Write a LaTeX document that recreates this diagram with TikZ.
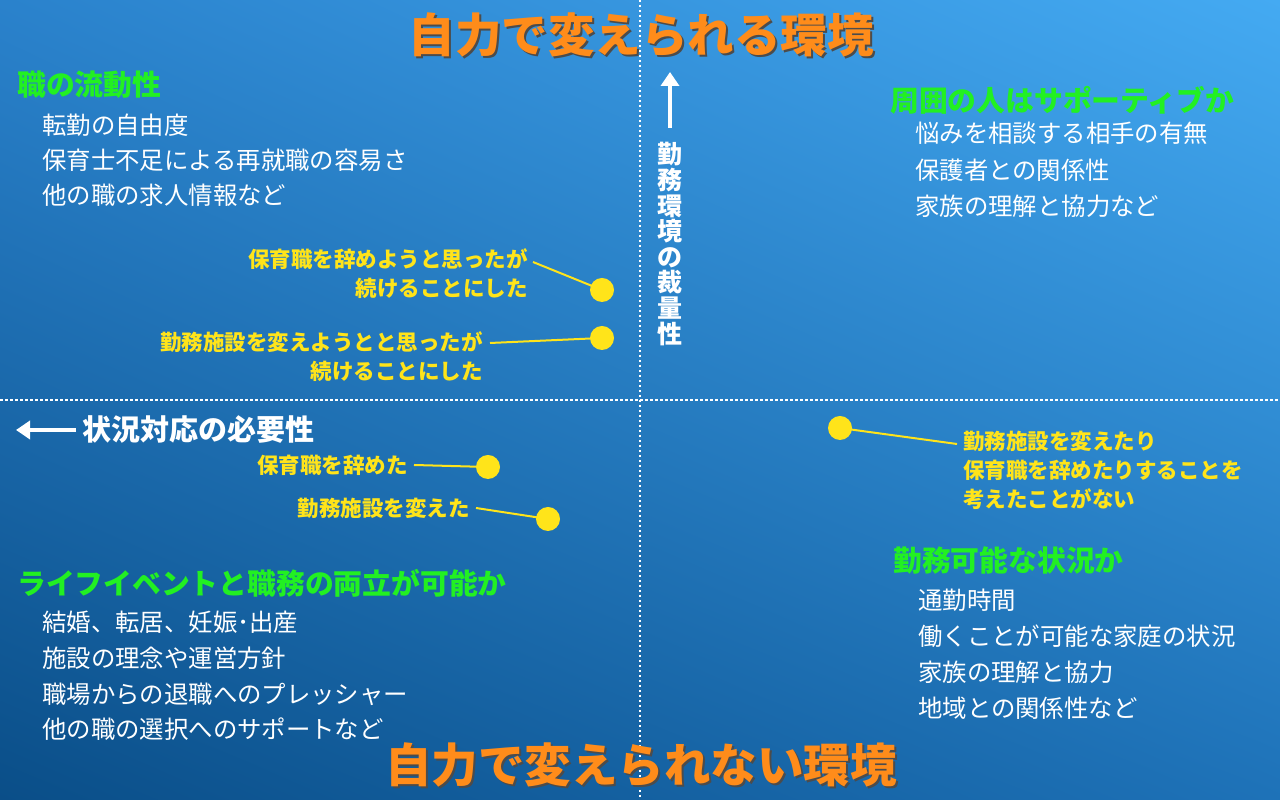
\documentclass[tikz,border=0pt]{standalone}
\usepackage{fontspec}
\setmainfont{Noto Sans CJK JP}
\usetikzlibrary{arrows.meta,shadings}
\newcommand\jpb{\bfseries}
\definecolor{orange1}{HTML}{FF8C1A}
\definecolor{green1}{HTML}{22F022}
\definecolor{yel}{HTML}{FFE41A}
\definecolor{bgA}{HTML}{0A4E88}
\definecolor{bgB}{HTML}{44AAF2}
\definecolor{bgC}{HTML}{2A82CC}
\definecolor{bgD}{HTML}{1E72B8}
\begin{document}
\begin{tikzpicture}[x=1pt,y=1pt,
  ttl/.style={text=orange1,font=\jpb\fontsize{46.5}{50}\selectfont,inner sep=0pt},
  ttlsh/.style={text=black!70,font=\jpb\fontsize{46.5}{50}\selectfont,inner sep=0pt},
  head/.style={text=green1,font=\jpb\fontsize{28.8}{30}\selectfont,anchor=west,inner sep=0pt},
  item/.style={text=white,font=\fontsize{24.4}{26}\selectfont,anchor=west,inner sep=0pt},
  ylab/.style={text=yel,font=\jpb\fontsize{21.5}{29}\selectfont,inner sep=0pt,align=right},
  dot/.style={circle,fill=yel,minimum size=24pt,inner sep=0pt},
  yline/.style={yel,line width=2pt},
  axis/.style={white,line width=4pt,-{Triangle[length=14pt,width=18pt]}},
  axlab/.style={text=white,font=\jpb\fontsize{29}{30}\selectfont,inner sep=0pt}]
\useasboundingbox (0,0) rectangle (1280,800);
\shade[lower left=bgA,upper right=bgB,upper left=bgC,lower right=bgD] (0,0) rectangle (1280,800);
\coordinate (vt) at (640,800); \coordinate (vb) at (640,0);
\coordinate (hl) at (0,400); \coordinate (hr) at (1280,400);
\draw[white,line width=2.5pt,dash pattern=on 2.5pt off 2.5pt] (vt)--(vb) (hl)--(hr);
% titles
\node[ttlsh] (t1s) at (643,763) {自力で変えられる環境};
\node[ttl] (t1) at (641,765) {自力で変えられる環境};
\node[ttlsh] (t2s) at (643,33) {自力で変えられない環境};
\node[ttl] (t2) at (641,35) {自力で変えられない環境};
% quadrant text
\node[head] (h1) at (17,715) {職の流動性};
\node[item] (i11) at (42,675) {転勤の自由度};
\node[item] (i12) at (42,640) {保育士不足による再就職の容易さ};
\node[item] (i13) at (42,605) {他の職の求人情報など};
\node[head] (h2) at (890,700) {周囲の人はサポーティブか};
\node[item] (i21) at (915,667) {悩みを相談する相手の有無};
\node[item] (i22) at (915,630) {保護者との関係性};
\node[item] (i23) at (915,594) {家族の理解と協力など};
\node[head] (h3) at (17,217) {ライフイベントと職務の両立が可能か};
\node[item] (i31) at (42,178) {結婚、転居、妊娠･出産};
\node[item] (i32) at (42,142) {施設の理念や運営方針};
\node[item] (i33) at (42,106) {職場からの退職へのプレッシャー};
\node[item] (i34) at (42,71) {他の職の選択へのサポートなど};
\node[head] (h4) at (893,240) {勤務可能な状況か};
\node[item] (i41) at (918,200) {通勤時間};
\node[item] (i42) at (918,164) {働くことが可能な家庭の状況};
\node[item] (i43) at (918,128) {家族の理解と協力};
\node[item] (i44) at (918,92) {地域との関係性など};
% axes
\coordinate (a1s) at (670,672); \coordinate (a1e) at (670,728);
\draw[axis] (a1s)--(a1e);
\node[axlab,align=center,font=\jpb\fontsize{25}{25.6}\selectfont] (va) at (670,556) {勤\\務\\環\\境\\の\\裁\\量\\性};
\coordinate (a2s) at (76,370); \coordinate (a2e) at (16,370);
\draw[axis] (a2s)--(a2e);
\node[axlab,anchor=west] (ha) at (82,370) {状況対応の必要性};
% dots & labels
\node[dot] (d1) at (602,510) {};
\node[dot] (d2) at (602,462) {};
\node[dot] (d3) at (488,333) {};
\node[dot] (d4) at (548,281) {};
\node[dot] (d5) at (840,372) {};
\node[ylab,anchor=north east] (l1) at (528,552) {保育職を辞めようと思ったが\\続けることにした};
\node[ylab,anchor=north east] (l2) at (483,469) {勤務施設を変えようとと思ったが\\続けることにした};
\node[ylab,anchor=east] (l3) at (408,335) {保育職を辞めた};
\node[ylab,anchor=east] (l4) at (470,292) {勤務施設を変えた};
\node[ylab,anchor=north west,align=left] (l5) at (963,369) {勤務施設を変えたり\\保育職を辞めたりすることを\\考えたことがない};
\coordinate (c1) at (533,538); \coordinate (c2) at (490,457);
\coordinate (c3) at (414,335); \coordinate (c4) at (476,292);
\coordinate (c5) at (957,356);
\draw[yline] (c1)--(d1.center);
\draw[yline] (c2)--(d2.center);
\draw[yline] (c3)--(d3.center);
\draw[yline] (c4)--(d4.center);
\draw[yline] (c5)--(d5.center);
\end{tikzpicture}
\end{document}
